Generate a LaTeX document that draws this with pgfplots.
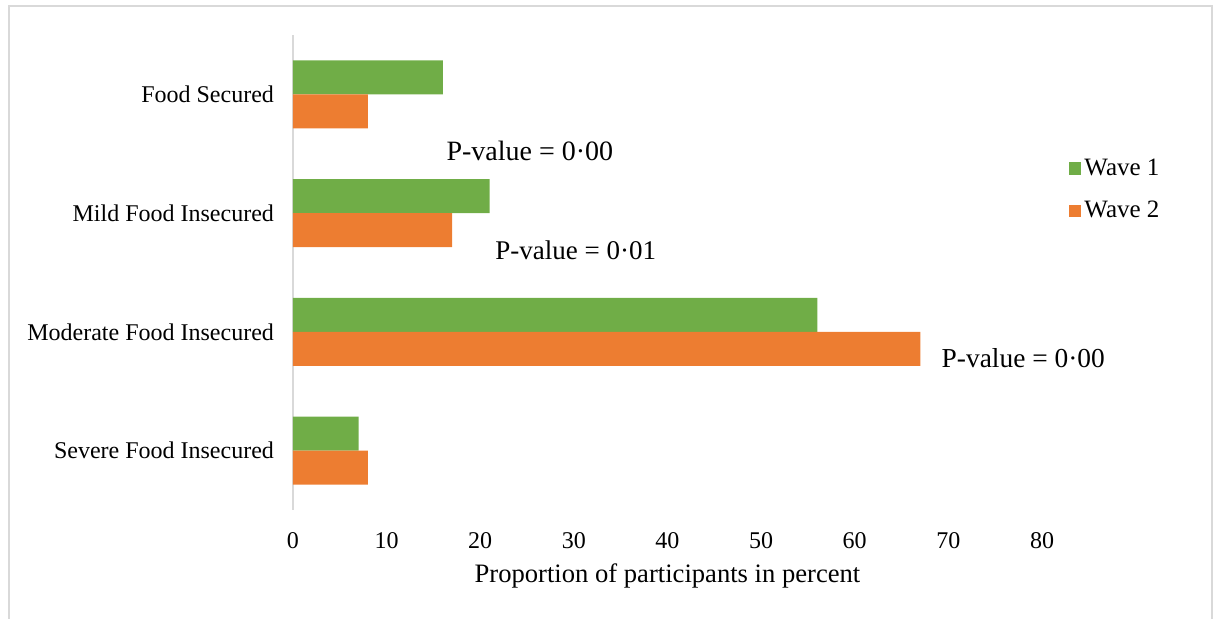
\documentclass[border=0pt]{standalone}
\usepackage{fontspec}
\setmainfont{Liberation Serif}
\usepackage{pgfplots}
\pgfplotsset{compat=1.18}
\definecolor{wone}{HTML}{70AD47}
\definecolor{wtwo}{HTML}{ED7D31}
\definecolor{framegray}{HTML}{D9D9D9}
\newcommand{\lbl}{\fontsize{12}{14}\selectfont}

\begin{document}
\begin{tikzpicture}
\useasboundingbox (-146.5pt,-54.5pt) rectangle (462pt,255pt);
\draw[framegray, line width=0.8pt] (-142pt,-60pt) -- (-142pt,252pt) -- (459.5pt,252pt) -- (459.5pt,-60pt);
\begin{axis}[
  at={(0,0)}, anchor=south west,
  scale only axis, width=374.5pt, height=237.5pt,
  xbar, bar width=17pt,
  clip=false,
  xmin=0, xmax=80, ymin=-0.5, ymax=3.5,
  xtick={0,10,...,80},
  ytick={0,1,2,3},
  yticklabels={Severe Food Insecured, Moderate Food Insecured, Mild Food Insecured, Food Secured},
  axis lines*=left,
  separate axis lines,
  x axis line style={draw=none},
  y axis line style={draw=framegray, line width=0.8pt},
  major tick length=0pt,
  tick label style={font=\lbl},
  /pgf/number format/assume math mode=true,
  xticklabel style={yshift=-7.5pt},
  yticklabel style={xshift=-6pt},
  xlabel={Proportion of participants in percent},
  xlabel style={font=\fontsize{13.3}{15}\selectfont, at={(axis description cs:0.5,0)}, anchor=center, yshift=-33pt},
  legend style={at={(1.027,0.674)}, anchor=west, draw=none, font=\fontsize{12.5}{14}\selectfont, row sep=7.5pt, legend cell align=left,
    nodes={inner xsep=1.5pt}},
  legend image code/.code={\fill[#1] (0pt,-3.2pt) rectangle (6.4pt,3.2pt);},
]
\addplot[draw=none, fill=wone, bar shift=8.5pt] coordinates {(7,0) (56,1) (21,2) (16,3)};
\addplot[draw=none, fill=wtwo, bar shift=-8.5pt] coordinates {(8,0) (67,1) (17,2) (8,3)};
\legend{Wave 1, Wave 2}
\node[font=\fontsize{14}{16}\selectfont] at (axis cs:25.3,2.52) {P-value = 0·00};
\node[font=\fontsize{13.5}{16}\selectfont] at (axis cs:30.2,1.69) {P-value = 0·01};
\node[font=\fontsize{13.7}{16}\selectfont] at (axis cs:78.0,0.78) {P-value = 0·00};
\end{axis}
\end{tikzpicture}
\end{document}
